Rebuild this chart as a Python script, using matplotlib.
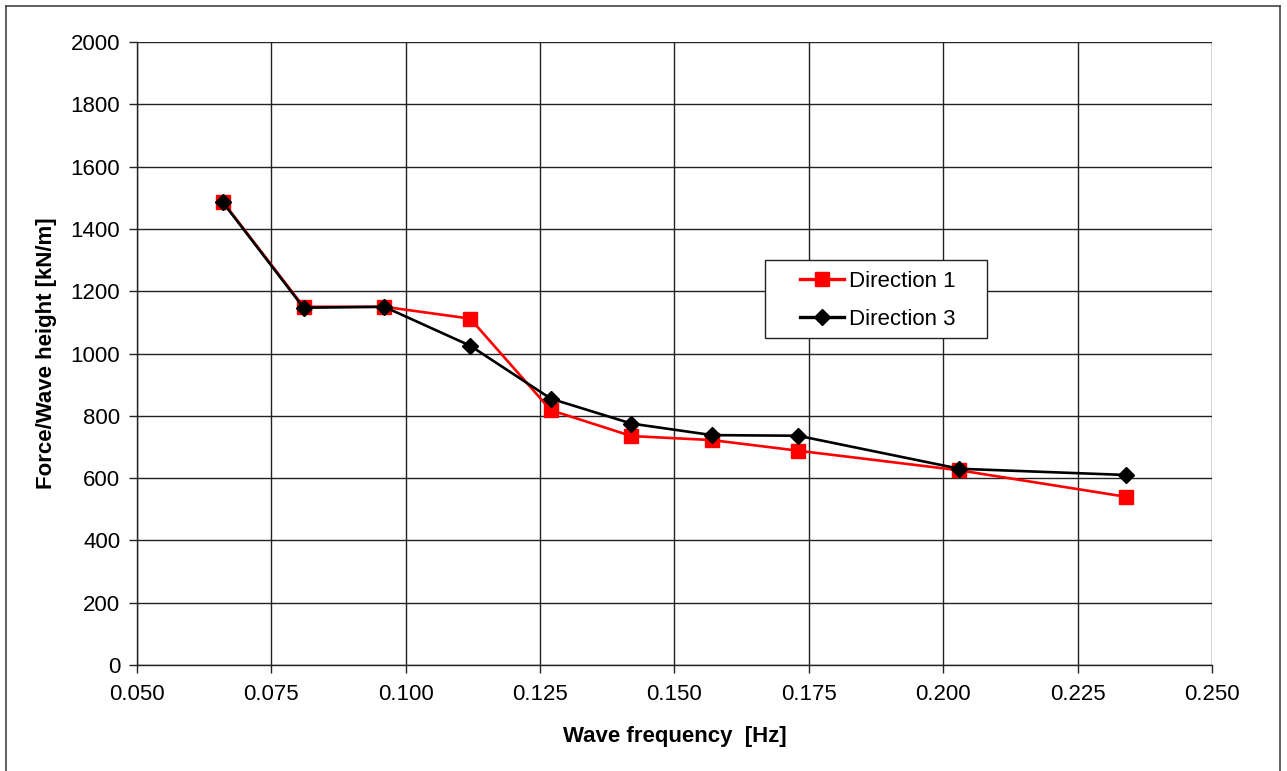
import matplotlib
matplotlib.use('Agg')
import matplotlib.pyplot as plt
from matplotlib.patches import Rectangle
from matplotlib.lines import Line2D

plt.rcParams['font.family'] = ['Liberation Sans', 'DejaVu Sans']

# wave frequencies [Hz]
freq = [0.066, 0.081, 0.096, 0.112, 0.127, 0.142, 0.157, 0.173, 0.203, 0.234]
# force per wave height [kN/m]
dir1 = [1487, 1150, 1150, 1112, 818, 735, 722, 688, 625, 540]
dir3 = [1485, 1147, 1150, 1025, 855, 775, 738, 736, 630, 610]

x_ticks = [0.050, 0.075, 0.100, 0.125, 0.150, 0.175, 0.200, 0.225, 0.250]
y_ticks = [0, 200, 400, 600, 800, 1000, 1200, 1400, 1600, 1800, 2000]

fig = plt.figure(figsize=(12.87, 7.71), dpi=100)
ax = fig.add_axes([0.1064, 0.1375, 0.8353, 0.808])

ax.plot(freq, dir1, color='#ff0000', lw=1.9, marker='s', ms=9.5,
        mec='#ff0000', mfc='#ff0000', label='Direction 1', zorder=3)
ax.plot(freq, dir3, color='black', lw=1.9, marker='D', ms=8,
        mec='black', mfc='black', label='Direction 3', zorder=4)

ax.set_xlim(0.050, 0.250)
ax.set_ylim(0, 2000)
ax.set_xticks(x_ticks)
ax.set_xticklabels([f'{v:.3f}' for v in x_ticks])
ax.set_yticks(y_ticks)
ax.grid(True, color='#222222', lw=1.0)
ax.set_axisbelow(True)
ax.tick_params(direction='out', length=6, width=1.0, color='#222222',
               labelsize=16, pad=6)
ax.tick_params(axis='x', pad=8)
for side in ['top', 'right']:
    ax.spines[side].set_visible(False)
for side in ['left', 'bottom']:
    ax.spines[side].set_color('#222222')
    ax.spines[side].set_linewidth(1.0)

ax.set_xlabel('Wave frequency  [Hz]', fontsize=16, fontweight='bold', labelpad=15)
ax.set_ylabel('Force/Wave height [kN/m]', fontsize=16, fontweight='bold', labelpad=10)

# legend box drawn separately so the entries can sit with wide side margins
ax.add_patch(Rectangle((0.5842, 0.5249), 0.2065, 0.1252, transform=ax.transAxes,
                       facecolor='white', edgecolor='#222222', lw=1.0, zorder=5))
leg = ax.legend(loc='upper left', bbox_to_anchor=(0.6083, 0.6470), fontsize=16,
                frameon=False, borderpad=0.4, labelspacing=0.78,
                handlelength=2.0, handletextpad=0.2, borderaxespad=0)
leg.set_zorder(6)
for h in leg.legend_handles:
    h.set_linewidth(2.4)

# outer chart border (bottom edge runs off the image)
for xs, ys in [([0.0047, 0.9945], [0.9922, 0.9922]),
               ([0.0047, 0.0047], [0.0, 0.9922]),
               ([0.9945, 0.9945], [0.0, 0.9922])]:
    fig.add_artist(Line2D(xs, ys, transform=fig.transFigure, color='#444444', lw=1.2))

fig.savefig('out.png', dpi=100)
